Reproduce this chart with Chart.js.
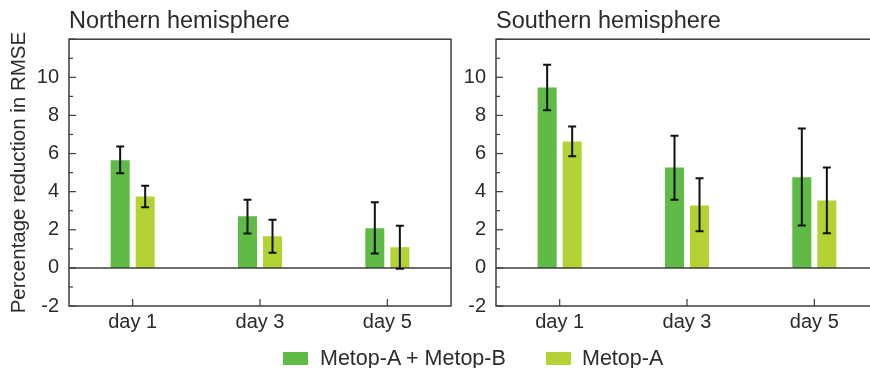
<!DOCTYPE html>
<html>
<head>
<meta charset="utf-8">
<script src="https://cdn.jsdelivr.net/npm/chart.js@4/dist/chart.umd.min.js"></script>
<style>
  html, body { margin: 0; padding: 0; background: #fff; overflow: hidden; }
  body { width: 870px; height: 368px; position: relative; font-family: "Liberation Sans", Arial, sans-serif; color: #2b2b2b; }
  canvas { position: absolute; top: 0; }
  #north { left: 0; }
  #south { left: 455px; }
  .key { position: absolute; top: 352px; width: 25px; height: 13px; }
  .label { position: absolute; top: 345px; font-size: 21.5px; line-height: 26px; white-space: nowrap; }
</style>
</head>
<body>
<canvas id="north" width="455" height="368"></canvas>
<canvas id="south" width="460" height="368"></canvas>
<div class="key" style="left:283px; background:#5fba46"></div>
<div class="label" style="left:320px">Metop-A + Metop-B</div>
<div class="key" style="left:546px; background:#b3d335"></div>
<div class="label" style="left:582px">Metop-A</div>

<script>
// Kategori dan nilai
const days = ['day 1', 'day 3', 'day 5'];
const seriesNames = ['Metop-A + Metop-B', 'Metop-A'];

const northBoth = [5.65, 2.71, 2.08];
const northBothLow = [4.97, 1.80, 0.75];
const northBothHigh = [6.37, 3.58, 3.44];
const northA = [3.75, 1.66, 1.08];
const northALow = [3.18, 0.79, -0.05];
const northAHigh = [4.31, 2.53, 2.21];

const southBoth = [9.46, 5.27, 4.75];
const southBothLow = [8.27, 3.58, 2.23];
const southBothHigh = [10.66, 6.93, 7.31];
const southA = [6.63, 3.28, 3.54];
const southALow = [5.86, 1.92, 1.82];
const southAHigh = [7.42, 4.70, 5.27];

const FONT = '"Liberation Sans", Arial, sans-serif';
const INK = '#2b2b2b';
const FRAME = '#3c3c3c';

// Bingkai, garis nol, tick ke dalam, dan error bar
const panelPlugin = {
  id: 'panelExtras',
  afterDatasetsDraw(chart) {
    const ctx = chart.ctx;
    const area = chart.chartArea;
    const y = chart.scales.y;
    const x = chart.scales.x;
    ctx.save();

    // garis nol
    ctx.strokeStyle = FRAME;
    ctx.lineWidth = 1.5;
    const y0 = y.getPixelForValue(0);
    ctx.beginPath();
    ctx.moveTo(area.left, y0);
    ctx.lineTo(area.right, y0);
    ctx.stroke();

    // tick sumbu y (mayor di angka genap)
    ctx.lineWidth = 1.2;
    y.ticks.forEach(t => {
      const py = y.getPixelForValue(t.value);
      const len = t.value % 2 === 0 ? 7 : 4;
      ctx.beginPath();
      ctx.moveTo(area.left, py);
      ctx.lineTo(area.left + len, py);
      ctx.stroke();
    });

    // tick sumbu x
    days.forEach((d, i) => {
      const px = x.getPixelForValue(i);
      ctx.beginPath();
      ctx.moveTo(px, area.bottom);
      ctx.lineTo(px, area.bottom - 7);
      ctx.stroke();
    });

    // bingkai
    ctx.lineWidth = 1.5;
    ctx.strokeRect(area.left, area.top, area.right - area.left, area.bottom - area.top);

    // error bar
    ctx.strokeStyle = '#111';
    ctx.lineWidth = 2;
    chart.data.datasets.forEach((ds, di) => {
      const meta = chart.getDatasetMeta(di);
      meta.data.forEach((bar, i) => {
        const top = y.getPixelForValue(ds.errHigh[i]);
        const bot = y.getPixelForValue(ds.errLow[i]);
        ctx.beginPath();
        ctx.moveTo(bar.x, top);
        ctx.lineTo(bar.x, bot);
        ctx.moveTo(bar.x - 4, top);
        ctx.lineTo(bar.x + 4, top);
        ctx.moveTo(bar.x - 4, bot);
        ctx.lineTo(bar.x + 4, bot);
        ctx.stroke();
      });
    });
    ctx.restore();
  }
};

function makeDataset(label, values, low, high, color) {
  return {
    label: label,
    data: values,
    errLow: low,
    errHigh: high,
    backgroundColor: color,
    borderWidth: 0,
    barPercentage: 0.76,
    categoryPercentage: 0.393
  };
}

function renderPanel(id, title, both, bothLow, bothHigh, a, aLow, aHigh, opts) {
  const ctx = document.getElementById(id).getContext('2d');
  new Chart(ctx, {
    type: 'bar',
    data: {
      labels: days,
      datasets: [
        makeDataset(seriesNames[0], both, bothLow, bothHigh, '#5fba46'),
        makeDataset(seriesNames[1], a, aLow, aHigh, '#b3d335')
      ]
    },
    options: {
      responsive: false,
      animation: false,
      devicePixelRatio: 1,
      layout: { padding: { top: 0, right: opts.padRight, bottom: 0, left: 0 } },
      scales: {
        y: {
          min: -2,
          max: 12,
          grid: { display: false, drawTicks: false },
          border: { display: false },
          ticks: {
            stepSize: 1,
            autoSkip: false,
            padding: 10,
            color: INK,
            font: { family: FONT, size: 20 },
            callback: v => (v % 2 === 0 && v < 12 ? v : '')
          },
          title: {
            display: opts.yTitle,
            text: 'Percentage reduction in RMSE',
            color: INK,
            font: { family: FONT, size: 20.5 },
            padding: { top: 7, bottom: 0 }
          },
          afterFit: scale => { scale.width = opts.yWidth; }
        },
        x: {
          grid: { display: false, drawTicks: false },
          border: { display: false },
          ticks: {
            padding: 4,
            color: INK,
            font: { family: FONT, size: 20 }
          },
          afterFit: scale => { scale.height = 62; }
        }
      },
      plugins: {
        legend: { display: false },
        tooltip: { enabled: false },
        title: {
          display: true,
          text: title,
          align: 'start',
          fullSize: false,
          color: INK,
          font: { family: FONT, size: 23.5, weight: 'normal' },
          padding: { top: 7, bottom: 4 }
        }
      }
    },
    plugins: [panelPlugin]
  });
}

renderPanel('north', 'Northern hemisphere', northBoth, northBothLow, northBothHigh,
  northA, northALow, northAHigh, { yTitle: true, yWidth: 69, padRight: 4 });
// panel kanan terpotong di tepi gambar, seperti aslinya
renderPanel('south', 'Southern hemisphere', southBoth, southBothLow, southBothHigh,
  southA, southALow, southAHigh, { yTitle: false, yWidth: 41, padRight: 37 });
</script>
</body>
</html>
